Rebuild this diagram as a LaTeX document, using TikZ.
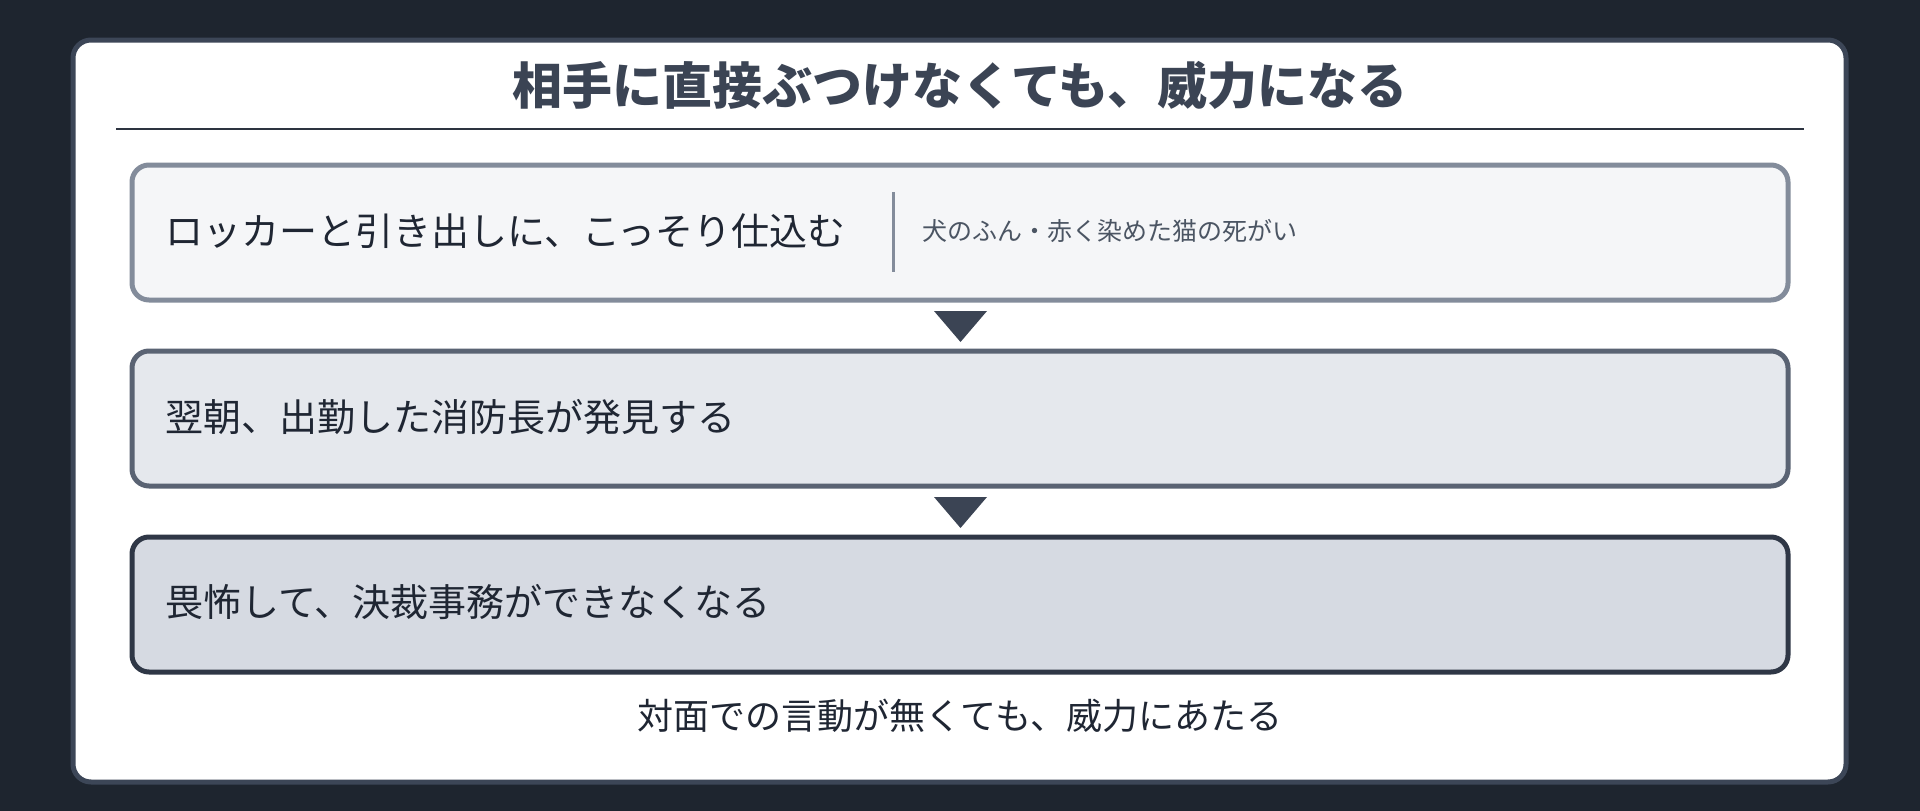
\documentclass[tikz,border=0pt]{standalone}
\usepackage{fontspec}
\setmainfont{Noto Sans CJK JP}
\definecolor{bgc}{HTML}{1E252F}
\definecolor{cardborder}{HTML}{3C4657}
\definecolor{titlec}{HTML}{3B4454}
\definecolor{rulec}{HTML}{2D3440}
\definecolor{fillA}{HTML}{F5F6F8}
\definecolor{drawA}{HTML}{838C9B}
\definecolor{fillB}{HTML}{E5E8ED}
\definecolor{drawB}{HTML}{5A6373}
\definecolor{fillC}{HTML}{D6DAE2}
\definecolor{drawC}{HTML}{2F3746}
\definecolor{textc}{HTML}{1F2633}
\definecolor{subc}{HTML}{4B5563}
\definecolor{tric}{HTML}{3B4454}
\tikzset{
  x=1pt, y=-1pt,
  stepbox/.style={rounded corners=17pt, line width=5pt},
  steptext/.style={anchor=west, inner sep=0pt, text=textc, font=\fontsize{38}{44}\selectfont},
  tri/.style={fill=tric, draw=none},
}
\begin{document}
\begin{tikzpicture}
\fill[bgc] (0,0) rectangle (1920,811);
\useasboundingbox (0,0) rectangle (1920,811);
% card
\draw[line width=5pt, draw=cardborder, fill=white, rounded corners=18pt] (73,40) rectangle (1846,782);
% title
\node[inner sep=0pt, text=titlec, font=\fontsize{50}{58}\selectfont\bfseries] (title) at (960,85) {相手に直接ぶつけなくても、威力になる};
\coordinate (ruleL) at (116,129);
\coordinate (ruleR) at (1804,129);
\draw[line width=2.5pt, rulec] (ruleL) -- (ruleR);
% box 1
\draw[stepbox, draw=drawA, fill=fillA] (132,165) rectangle (1788,300);
\node[steptext] (t1) at (165,231) {ロッカーと引き出しに、こっそり仕込む};
\coordinate (divT) at (893,192);
\coordinate (divB) at (893,272);
\draw[line width=3pt, drawA] (divT) -- (divB);
\node[anchor=west, inner sep=0pt, text=subc, font=\fontsize{25}{30}\selectfont] (s1) at (922,231) {犬のふん・赤く染めた猫の死がい};
% arrow 1
\path[tri] (934,311) -- (987,311) -- (960.5,342) -- cycle;
% box 2
\draw[stepbox, draw=drawB, fill=fillB] (132,351) rectangle (1788,486);
\node[steptext] (t2) at (165,417) {翌朝、出勤した消防長が発見する};
% arrow 2
\path[tri] (934,497) -- (987,497) -- (960.5,528) -- cycle;
% box 3
\draw[stepbox, draw=drawC, fill=fillC] (132,537) rectangle (1788,672);
\node[steptext] (t3) at (165,602) {畏怖して、決裁事務ができなくなる};
% footer
\node[inner sep=0pt, text=textc, font=\fontsize{36}{42}\selectfont] (foot) at (960,716) {対面での言動が無くても、威力にあたる};
\end{tikzpicture}
\end{document}
